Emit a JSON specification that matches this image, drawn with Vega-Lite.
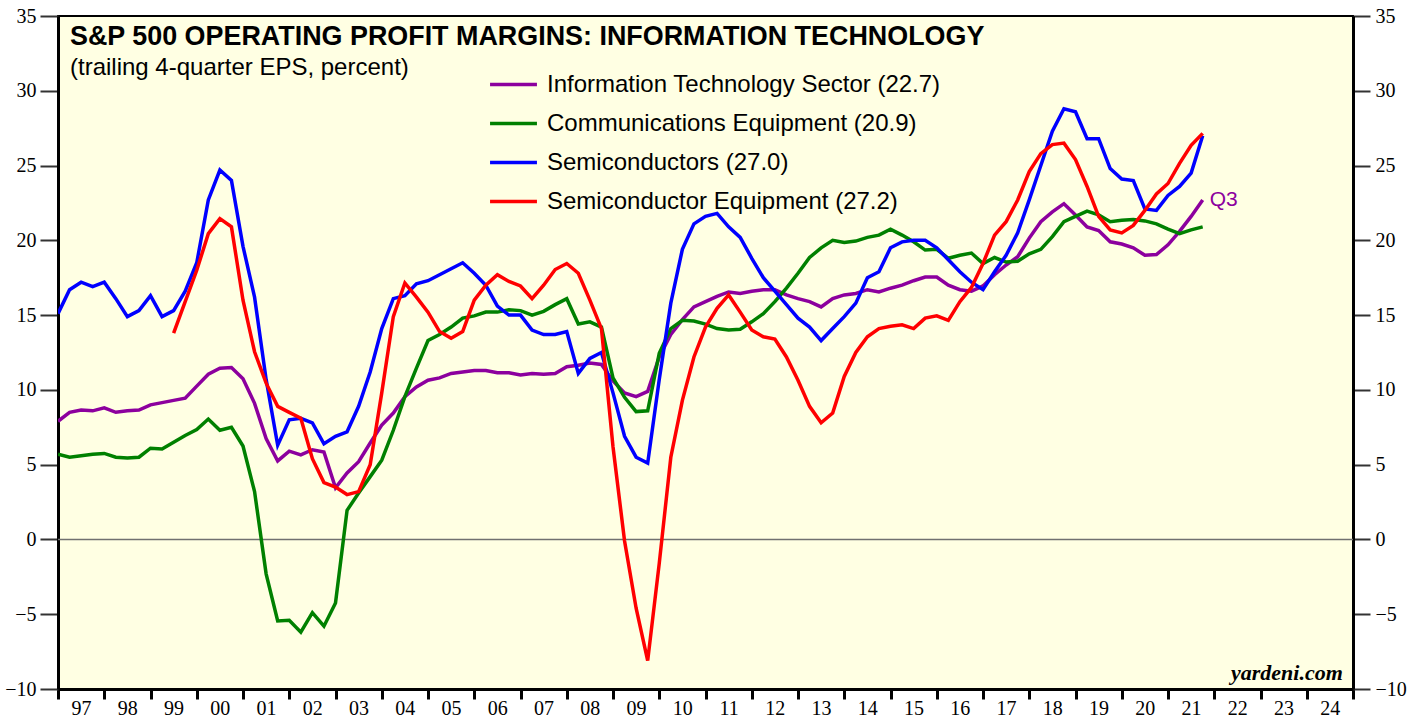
{
  "$schema": "https://vega.github.io/schema/vega-lite/v6.json",
  "width": 1295,
  "height": 673,
  "autosize": {"type": "none"},
  "padding": {"left": 58, "top": 16, "right": 66, "bottom": 28},
  "background": "white",
  "config": {
    "view": {"fill": "#FFFFE3", "stroke": "#000000", "strokeWidth": 2},
    "style": {"guide-label": {"font": "Liberation Serif", "fontSize": 20, "fill": "#000000"}},
    "axis": {"grid": false, "title": null, "labelFont": "Liberation Serif", "labelFontSize": 20, "labelColor": "#000000", "domainColor": "#000000", "domainWidth": 3, "labelOverlap": false}
  },
  "title": {
    "text": "S&P 500 OPERATING PROFIT MARGINS: INFORMATION TECHNOLOGY",
    "subtitle": "(trailing 4-quarter EPS, percent)",
    "anchor": "start",
    "frame": "group",
    "orient": "top",
    "offset": -75,
    "dx": 12,
    "font": "Liberation Sans",
    "fontSize": 26.9,
    "fontWeight": "bold",
    "color": "#000000",
    "subtitleFont": "Liberation Sans",
    "subtitleFontSize": 24,
    "subtitleColor": "#000000",
    "subtitlePadding": 5
  },
  "data": {"values": [
    {"t":1997,"it":7.9,"ce":5.7,"sc":15.1,"se":null},
    {"t":1997.25,"it":8.5,"ce":5.5,"sc":16.7,"se":null},
    {"t":1997.5,"it":8.65,"ce":5.6,"sc":17.2,"se":null},
    {"t":1997.75,"it":8.6,"ce":5.7,"sc":16.9,"se":null},
    {"t":1998,"it":8.8,"ce":5.75,"sc":17.2,"se":null},
    {"t":1998.25,"it":8.5,"ce":5.5,"sc":16.1,"se":null},
    {"t":1998.5,"it":8.6,"ce":5.45,"sc":14.9,"se":null},
    {"t":1998.75,"it":8.65,"ce":5.5,"sc":15.3,"se":null},
    {"t":1999,"it":9.0,"ce":6.1,"sc":16.3,"se":null},
    {"t":1999.25,"it":9.15,"ce":6.05,"sc":14.9,"se":null},
    {"t":1999.5,"it":9.3,"ce":6.5,"sc":15.3,"se":13.8},
    {"t":1999.75,"it":9.45,"ce":6.95,"sc":16.6,"se":15.9},
    {"t":2000,"it":10.25,"ce":7.35,"sc":18.5,"se":18.0},
    {"t":2000.25,"it":11.05,"ce":8.05,"sc":22.7,"se":20.45},
    {"t":2000.5,"it":11.45,"ce":7.3,"sc":24.7,"se":21.45},
    {"t":2000.75,"it":11.5,"ce":7.5,"sc":24.0,"se":20.9},
    {"t":2001,"it":10.75,"ce":6.25,"sc":19.6,"se":16.0},
    {"t":2001.25,"it":9.1,"ce":3.2,"sc":16.2,"se":12.55},
    {"t":2001.5,"it":6.75,"ce":-2.3,"sc":10.7,"se":10.45},
    {"t":2001.75,"it":5.25,"ce":-5.45,"sc":6.3,"se":8.9},
    {"t":2002,"it":5.9,"ce":-5.4,"sc":8.0,"se":8.5},
    {"t":2002.25,"it":5.65,"ce":-6.2,"sc":8.1,"se":8.1},
    {"t":2002.5,"it":6.0,"ce":-4.9,"sc":7.8,"se":5.4},
    {"t":2002.75,"it":5.85,"ce":-5.8,"sc":6.4,"se":3.8},
    {"t":2003,"it":3.45,"ce":-4.25,"sc":6.9,"se":3.5},
    {"t":2003.25,"it":4.45,"ce":1.95,"sc":7.2,"se":3.0},
    {"t":2003.5,"it":5.2,"ce":3.1,"sc":8.9,"se":3.2},
    {"t":2003.75,"it":6.45,"ce":4.2,"sc":11.2,"se":5.0},
    {"t":2004,"it":7.65,"ce":5.3,"sc":14.1,"se":9.8},
    {"t":2004.25,"it":8.45,"ce":7.3,"sc":16.1,"se":14.9},
    {"t":2004.5,"it":9.55,"ce":9.55,"sc":16.3,"se":17.15},
    {"t":2004.75,"it":10.2,"ce":11.45,"sc":17.1,"se":16.2},
    {"t":2005,"it":10.65,"ce":13.3,"sc":17.3,"se":15.2},
    {"t":2005.25,"it":10.8,"ce":13.7,"sc":17.7,"se":13.9},
    {"t":2005.5,"it":11.1,"ce":14.2,"sc":18.1,"se":13.45},
    {"t":2005.75,"it":11.2,"ce":14.8,"sc":18.5,"se":13.9},
    {"t":2006,"it":11.3,"ce":14.95,"sc":17.8,"se":16.0},
    {"t":2006.25,"it":11.3,"ce":15.2,"sc":17.0,"se":17.0},
    {"t":2006.5,"it":11.15,"ce":15.2,"sc":15.6,"se":17.7},
    {"t":2006.75,"it":11.15,"ce":15.35,"sc":15.0,"se":17.25},
    {"t":2007,"it":11.0,"ce":15.3,"sc":15.0,"se":16.95},
    {"t":2007.25,"it":11.1,"ce":15.0,"sc":14.0,"se":16.1},
    {"t":2007.5,"it":11.05,"ce":15.25,"sc":13.7,"se":17.0},
    {"t":2007.75,"it":11.1,"ce":15.7,"sc":13.7,"se":18.05},
    {"t":2008,"it":11.55,"ce":16.1,"sc":13.9,"se":18.45},
    {"t":2008.25,"it":11.65,"ce":14.4,"sc":11.1,"se":17.8},
    {"t":2008.5,"it":11.8,"ce":14.55,"sc":12.1,"se":16.0},
    {"t":2008.75,"it":11.7,"ce":14.2,"sc":12.5,"se":14.1},
    {"t":2009,"it":10.6,"ce":10.8,"sc":9.8,"se":6.2},
    {"t":2009.25,"it":9.8,"ce":9.5,"sc":6.9,"se":-0.1},
    {"t":2009.5,"it":9.55,"ce":8.55,"sc":5.5,"se":-4.6},
    {"t":2009.75,"it":9.9,"ce":8.6,"sc":5.1,"se":-8.1},
    {"t":2010,"it":12.2,"ce":12.45,"sc":10.7,"se":-1.6},
    {"t":2010.25,"it":13.7,"ce":14.1,"sc":15.8,"se":5.5},
    {"t":2010.5,"it":14.7,"ce":14.65,"sc":19.4,"se":9.3},
    {"t":2010.75,"it":15.55,"ce":14.6,"sc":21.1,"se":12.2},
    {"t":2011,"it":15.9,"ce":14.4,"sc":21.6,"se":14.2},
    {"t":2011.25,"it":16.25,"ce":14.1,"sc":21.8,"se":15.45},
    {"t":2011.5,"it":16.55,"ce":14.0,"sc":20.9,"se":16.35},
    {"t":2011.75,"it":16.45,"ce":14.05,"sc":20.2,"se":15.2},
    {"t":2012,"it":16.6,"ce":14.55,"sc":18.8,"se":14.0},
    {"t":2012.25,"it":16.7,"ce":15.1,"sc":17.5,"se":13.55},
    {"t":2012.5,"it":16.7,"ce":15.9,"sc":16.6,"se":13.4},
    {"t":2012.75,"it":16.35,"ce":16.8,"sc":15.7,"se":12.2},
    {"t":2013,"it":16.1,"ce":17.8,"sc":14.8,"se":10.65},
    {"t":2013.25,"it":15.9,"ce":18.85,"sc":14.2,"se":8.9},
    {"t":2013.5,"it":15.55,"ce":19.5,"sc":13.3,"se":7.8},
    {"t":2013.75,"it":16.1,"ce":20.0,"sc":14.1,"se":8.45},
    {"t":2014,"it":16.35,"ce":19.85,"sc":14.9,"se":10.9},
    {"t":2014.25,"it":16.45,"ce":19.95,"sc":15.8,"se":12.5},
    {"t":2014.5,"it":16.7,"ce":20.2,"sc":17.5,"se":13.55},
    {"t":2014.75,"it":16.55,"ce":20.35,"sc":17.9,"se":14.1},
    {"t":2015,"it":16.8,"ce":20.75,"sc":19.5,"se":14.25},
    {"t":2015.25,"it":17.0,"ce":20.35,"sc":19.9,"se":14.35},
    {"t":2015.5,"it":17.3,"ce":19.9,"sc":20.0,"se":14.1},
    {"t":2015.75,"it":17.55,"ce":19.35,"sc":20.0,"se":14.8},
    {"t":2016,"it":17.55,"ce":19.4,"sc":19.5,"se":14.95},
    {"t":2016.25,"it":17.0,"ce":18.8,"sc":18.7,"se":14.65},
    {"t":2016.5,"it":16.7,"ce":19.0,"sc":17.9,"se":15.9},
    {"t":2016.75,"it":16.6,"ce":19.15,"sc":17.2,"se":16.85},
    {"t":2017,"it":16.95,"ce":18.45,"sc":16.7,"se":18.45},
    {"t":2017.25,"it":17.7,"ce":18.85,"sc":17.9,"se":20.35},
    {"t":2017.5,"it":18.35,"ce":18.55,"sc":19.0,"se":21.25},
    {"t":2017.75,"it":18.9,"ce":18.6,"sc":20.5,"se":22.7},
    {"t":2018,"it":20.15,"ce":19.1,"sc":22.7,"se":24.6},
    {"t":2018.25,"it":21.25,"ce":19.4,"sc":25.0,"se":25.8},
    {"t":2018.5,"it":21.9,"ce":20.25,"sc":27.3,"se":26.4},
    {"t":2018.75,"it":22.45,"ce":21.25,"sc":28.8,"se":26.5},
    {"t":2019,"it":21.7,"ce":21.6,"sc":28.6,"se":25.4},
    {"t":2019.25,"it":20.9,"ce":21.95,"sc":26.8,"se":23.6},
    {"t":2019.5,"it":20.65,"ce":21.7,"sc":26.8,"se":21.6},
    {"t":2019.75,"it":19.9,"ce":21.25,"sc":24.8,"se":20.7},
    {"t":2020,"it":19.75,"ce":21.35,"sc":24.1,"se":20.5},
    {"t":2020.25,"it":19.5,"ce":21.4,"sc":24.0,"se":21.0},
    {"t":2020.5,"it":19.0,"ce":21.3,"sc":22.1,"se":22.0},
    {"t":2020.75,"it":19.05,"ce":21.1,"sc":22.0,"se":23.1},
    {"t":2021,"it":19.7,"ce":20.75,"sc":23.0,"se":23.8},
    {"t":2021.25,"it":20.6,"ce":20.45,"sc":23.6,"se":25.15},
    {"t":2021.5,"it":21.6,"ce":20.7,"sc":24.5,"se":26.35},
    {"t":2021.75,"it":22.7,"ce":20.9,"sc":27.0,"se":27.15}
  ]},
  "layer": [
    {
      "data": {"values": [{}]},
      "mark": {"type": "rule", "color": "#707070", "strokeWidth": 1.5},
      "encoding": {
        "y": {"datum": 0, "type": "quantitative", "scale": {"domain": [-10, 35], "nice": false, "zero": false},
          "axis": {"orient": "right", "values": [-10, -5, 0, 5, 10, 15, 20, 25, 30, 35], "tickSize": 17, "tickWidth": 2, "tickColor": "#333333", "labelPadding": 5, "labelOverlap": false,
            "labelFont": "Liberation Serif", "labelFontSize": 20, "labelColor": "#000000"}}
      }
    },
    {
      "transform": [{"fold": ["it", "ce", "sc", "se"], "as": ["s", "v"]}],
      "mark": {"type": "line", "strokeWidth": 3.5, "clip": true},
      "encoding": {
        "x": {"field": "t", "type": "quantitative", "scale": {"domain": [1997, 2025], "nice": false, "zero": false},
          "axis": {"orient": "bottom", "values": [1997,1998,1999,2000,2001,2002,2003,2004,2005,2006,2007,2008,2009,2010,2011,2012,2013,2014,2015,2016,2017,2018,2019,2020,2021,2022,2023,2024,2025],
            "tickSize": 10, "tickWidth": 3, "tickColor": "#000000", "labelOffset": 23, "labelPadding": -1, "labelFlush": false, "labelAlign": "center",
            "labelFont": "Liberation Serif", "labelFontSize": 20, "labelColor": "#000000",
            "labelExpr": "datum.value >= 2025 ? '' : format(datum.value % 100, '02d')"}},
        "y": {"field": "v", "type": "quantitative", "scale": {"domain": [-10, 35], "nice": false, "zero": false},
          "axis": {"orient": "left", "values": [-10, -5, 0, 5, 10, 15, 20, 25, 30, 35], "tickSize": 18, "tickWidth": 2, "tickColor": "#333333", "labelPadding": 4,
            "labelFont": "Liberation Serif", "labelFontSize": 20, "labelColor": "#000000"}},
        "color": {"field": "s", "type": "nominal",
          "scale": {"domain": ["it", "ce", "sc", "se"], "range": ["#8C009E", "#008000", "#0000FF", "#FF0000"]},
          "legend": {"orient": "none", "legendX": 436, "legendY": 49, "title": null,
            "symbolType": "M-1.34,0H1.34", "symbolSize": 1225, "symbolStrokeWidth": 3.5,
            "labelFont": "Liberation Sans", "labelFontSize": 24, "labelColor": "#000000", "labelOffset": 14, "labelLimit": 700,
            "rowPadding": 7, "padding": 0,
            "labelExpr": "datum.value == 'it' ? 'Information Technology Sector (22.7)' : datum.value == 'ce' ? 'Communications Equipment (20.9)' : datum.value == 'sc' ? 'Semiconductors (27.0)' : 'Semiconductor Equipment (27.2)'"}}
      }
    },
    {
      "data": {"values": [{}]},
      "mark": {"type": "text", "text": "Q3", "align": "left", "baseline": "middle", "dx": 7, "font": "Liberation Sans", "fontSize": 21, "color": "#8C009E"},
      "encoding": {
        "x": {"datum": 2021.75, "type": "quantitative"},
        "y": {"datum": 22.7, "type": "quantitative", "axis": null}
      }
    },
    {
      "data": {"values": [{}]},
      "mark": {"type": "text", "text": "yardeni.com", "align": "right", "baseline": "alphabetic", "font": "Liberation Serif", "fontSize": 22, "fontStyle": "italic", "fontWeight": "bold", "color": "#000000"},
      "encoding": {
        "x": {"datum": 2024.78, "type": "quantitative"},
        "y": {"datum": -9.4, "type": "quantitative", "axis": null}
      }
    }
  ],
  "resolve": {"axis": {"y": "independent"}}
}
